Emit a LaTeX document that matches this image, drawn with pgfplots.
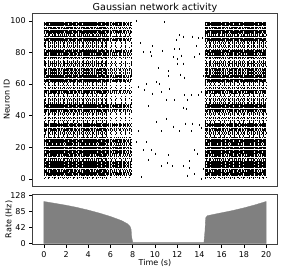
\documentclass[border=0pt]{standalone}
\usepackage{fontspec}
\setmainfont{DejaVu Sans}
\usepackage{pgfplots}
\usepackage{pgfplotstable}
\pgfplotsset{compat=1.18}

% neurons by activity class (3 dense ... 0 sparse), split by parity
\pgfplotstableread{
n
98
94
90
88
80
78
64
62
56
46
44
34
24
20
18
16
10
8
4
}\cthreeA
\pgfplotstableread{
n
99
97
93
89
81
65
63
47
45
25
23
21
19
17
11
9
7
3
}\cthreeB
\pgfplotstableread{
n
96
92
70
54
32
26
22
14
6
2
}\ctwoA
\pgfplotstableread{
n
95
79
77
73
69
67
55
43
35
33
31
15
13
5
}\ctwoB
\pgfplotstableread{
n
86
84
82
76
74
72
68
66
58
52
50
48
42
38
30
28
12
}\coneA
\pgfplotstableread{
n
91
87
83
71
61
59
57
51
41
39
37
29
1
}\coneB
\pgfplotstableread{
n
85
75
60
53
49
40
36
27
0
}\czero

% sparse spikes during the silent period
\pgfplotstableread{
t n
8.35 100
10.84 99
8.65 86
9.79 84
8.98 80
9.58 80
9.64 78
10.69 81
12.19 91
12.50 90
11.89 88
13.39 90
13.85 89
14.23 89
13.69 84
12.19 82
11.74 82
12.34 78
11.68 77
12.04 76
13.99 79
13.54 77
11.98 73
12.55 73
10.30 70
11.17 68
12.25 66
12.67 64
11.20 65
10.09 61
10.39 60
9.19 60
8.53 58
14.35 65
9.04 56
9.73 54
10.60 55
11.29 57
12.64 53
13.24 53
13.85 53
14.14 55
11.74 50
12.94 50
10.99 50
9.43 46
12.50 45
12.79 44
10.99 38
10.15 36
11.68 33
12.73 35
13.39 35
13.94 34
14.14 32
8.53 30
10.54 30
12.19 30
13.24 30
8.29 23
9.25 23
8.95 18
9.64 18
10.03 16
13.54 18
13.78 16
11.23 15
9.43 12
11.14 10
13.09 11
10.54 8
11.59 8
12.55 8
13.09 7
8.74 1
14.35 6
12.94 2
14.14 0
13.54 3
}\midspikes

\tikzset{
  dA/.style={dash pattern=on 5.3pt off 0.5pt on 2.1pt off 0.4pt on 7.7pt off 0.5pt},
  dAb/.style={dash pattern=on 5.3pt off 0.5pt on 2.1pt off 0.4pt on 7.7pt off 0.5pt, dash phase=4.1pt},
  dB/.style={dash pattern=on 1.6pt off 0.6pt on 0.8pt off 0.7pt on 2.3pt off 0.6pt},
  dBb/.style={dash pattern=on 1.6pt off 0.6pt on 0.8pt off 0.7pt on 2.3pt off 0.6pt, dash phase=2.9pt},
  dC/.style={dash pattern=on 0.5pt off 1.1pt on 0.5pt off 1.9pt on 0.9pt off 1.4pt},
  dCb/.style={dash pattern=on 0.5pt off 1.1pt on 0.5pt off 1.9pt on 0.9pt off 1.4pt, dash phase=2.6pt},
  dD/.style={dash pattern=on 0.5pt off 3.5pt on 0.5pt off 5.2pt},
  dDb/.style={dash pattern=on 0.5pt off 3.5pt on 0.5pt off 5.2pt, dash phase=4.4pt},
  row/.style={black, line width=1.35pt, mark=none},
}

\begin{document}
\begin{tikzpicture}
\useasboundingbox (0pt,0pt) rectangle (282pt,269pt);
\pgfplotsset{
  every axis/.append style={
    scale only axis,
    axis line style={black!75, line width=0.6pt},
    tick style={black, line width=0.6pt},
    tick align=outside,
    major tick length=3.5pt,
    tick label style={font=\fontsize{8}{9.6}\selectfont},
    label style={font=\fontsize{8}{9.6}\selectfont, inner sep=0pt},
    /pgf/number format/assume math mode=true,
    xmin=-1, xmax=21,
    clip=true,
  },
}
\begin{axis}[
  at={(32.7pt,82.3pt)}, anchor=south west,
  width=244.6pt, height=173.7pt,
  ymin=-5, ymax=105,
  ytick={0,20,40,60,80,100},
  xtick=\empty,
  ytick pos=left,
  ylabel={Neuron ID},
  ylabel style={at={(axis description cs:-0.106,0.5)}, anchor=center},
  title={Gaussian network activity},
  title style={font=\fontsize{9.6}{11.5}\selectfont, inner sep=0pt, at={(axis description cs:0.5,1)}, anchor=base, yshift=-3pt},
]
% block 1, early part (0-5.6 s)
\addplot[row, dA,  quiver={u=5.6,v=0}] table[x expr=0, y=n] {\cthreeA};
\addplot[row, dAb, quiver={u=5.6,v=0}] table[x expr=0, y=n] {\cthreeB};
\addplot[row, dB,  quiver={u=5.6,v=0}] table[x expr=0, y=n] {\ctwoA};
\addplot[row, dBb, quiver={u=5.6,v=0}] table[x expr=0, y=n] {\ctwoB};
\addplot[row, dC,  quiver={u=5.6,v=0}] table[x expr=0, y=n] {\coneA};
\addplot[row, dCb, quiver={u=5.6,v=0}] table[x expr=0, y=n] {\coneB};
\addplot[row, dD,  quiver={u=5.6,v=0}] table[x expr=0, y=n] {\czero};
% block 1, late part (5.6-7.9 s), lower rate
\addplot[row, dBb, quiver={u=2.3,v=0}] table[x expr=5.6, y=n] {\cthreeA};
\addplot[row, dB,  quiver={u=2.3,v=0}] table[x expr=5.6, y=n] {\cthreeB};
\addplot[row, dCb, quiver={u=2.3,v=0}] table[x expr=5.6, y=n] {\ctwoA};
\addplot[row, dC,  quiver={u=2.3,v=0}] table[x expr=5.6, y=n] {\ctwoB};
\addplot[row, dDb, quiver={u=2.3,v=0}] table[x expr=5.6, y=n] {\coneA};
\addplot[row, dD,  quiver={u=2.3,v=0}] table[x expr=5.6, y=n] {\coneB};
% block 2 (14.5-20 s)
\addplot[row, dAb, quiver={u=5.5,v=0}] table[x expr=14.5, y=n] {\cthreeA};
\addplot[row, dA,  quiver={u=5.5,v=0}] table[x expr=14.5, y=n] {\cthreeB};
\addplot[row, dBb, quiver={u=5.5,v=0}] table[x expr=14.5, y=n] {\ctwoA};
\addplot[row, dB,  quiver={u=5.5,v=0}] table[x expr=14.5, y=n] {\ctwoB};
\addplot[row, dCb, quiver={u=5.5,v=0}] table[x expr=14.5, y=n] {\coneA};
\addplot[row, dC,  quiver={u=5.5,v=0}] table[x expr=14.5, y=n] {\coneB};
\addplot[row, dDb, quiver={u=5.5,v=0}] table[x expr=14.5, y=n] {\czero};
% sparse spikes
\addplot[only marks, black, mark=|, mark size=1pt, mark options={line width=0.5pt}] table[x=t, y=n] {\midspikes};
\end{axis}

\begin{axis}[
  at={(32.7pt,24.7pt)}, anchor=south west,
  width=244.6pt, height=49.6pt,
  ymin=-2, ymax=130,
  ytick={0,42,85,128},
  xtick={0,2,...,20},
  xtick pos=bottom, ytick pos=left,
  xlabel={Time (s)},
  ylabel={Rate (Hz)},
  xlabel style={at={(axis description cs:0.5,-0.37)}, anchor=center},
  ylabel style={at={(axis description cs:-0.097,0.5)}, anchor=center},
]
\addplot[fill=black!50, draw=black!50, line width=0.3pt] coordinates {
(0,0) (0,112) (1,107) (2,102) (3,96) (4,89) (5,81) (6,72) (7,61) (7.5,53) (7.75,46) (7.85,38) (7.9,18) (8.0,3)
(14.4,3) (14.5,35) (14.55,68) (14.7,74) (15,76) (16,82) (17,88) (18,95) (19,103) (20,112) (20,0)
} \closedcycle;
\end{axis}
\end{tikzpicture}
\end{document}
